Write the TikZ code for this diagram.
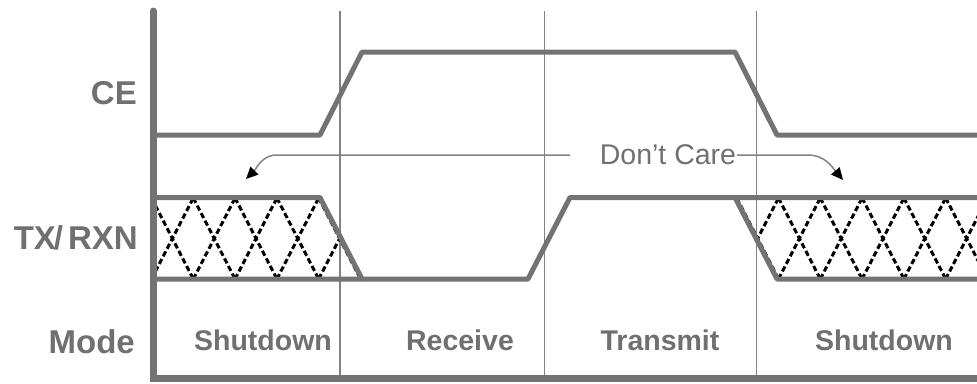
\documentclass[tikz,border=0pt]{standalone}
\usepackage{fontspec}
\setmainfont{Liberation Sans}
\usetikzlibrary{arrows.meta}
\definecolor{wavegray}{RGB}{115,115,115}
\definecolor{thingray}{RGB}{130,130,130}
\definecolor{textgray}{RGB}{112,112,112}
\begin{document}
\begin{tikzpicture}[x=1pt,y=-1pt,
  wave/.style={draw=wavegray, line width=5pt, line join=round},
  axisline/.style={draw=wavegray, line width=7pt, line cap=round},
  thinline/.style={draw=thingray, line width=1.6pt},
  hatchline/.style={draw=black, line width=3pt, dash pattern=on 5.5pt off 3pt},
  siglabel/.style={font=\fontsize{33}{36}\selectfont\bfseries, text=textgray, anchor=base east, inner sep=0pt},
  modelabel/.style={font=\fontsize{28.5}{32}\selectfont\bfseries, text=textgray, anchor=base, inner sep=0pt},
  dclabel/.style={font=\fontsize{28.5}{32}\selectfont, text=textgray, anchor=base, inner sep=0pt},
  dcline/.style={draw=thingray, line width=1.5pt, -{Triangle[length=12pt,width=11pt,color=black]}}
]
\useasboundingbox (0,0) rectangle (977,383);

% thin separators
\coordinate (s1t) at (340,11);  \coordinate (s1b) at (340,378);
\coordinate (s2t) at (544.5,11);\coordinate (s2b) at (544.5,378);
\coordinate (s3t) at (756.5,11);\coordinate (s3b) at (756.5,378);
\draw[thinline] (s1t) -- (s1b);
\draw[thinline] (s2t) -- (s2b);
\draw[thinline] (s3t) -- (s3b);

% hatch (don't care) regions
\begin{scope}
  \clip (155,199) -- (320,199) -- (362,279) -- (155,279) -- cycle;
  \foreach \k in {0,...,5} {
    \draw[hatchline] ({151.5+41.8*\k},198) -- ({151.5+41.8*(\k+1)},279);
    \draw[hatchline] ({151.5+41.8*\k},279) -- ({151.5+41.8*(\k+1)},198);
  }
\end{scope}
\begin{scope}
  \clip (735,199) -- (977,199) -- (977,279) -- (777,279) -- cycle;
  \foreach \k in {13,...,20} {
    \draw[hatchline] ({151.5+41.8*\k},198) -- ({151.5+41.8*(\k+1)},279);
    \draw[hatchline] ({151.5+41.8*\k},279) -- ({151.5+41.8*(\k+1)},198);
  }
\end{scope}

% CE waveform
\draw[wave] (153,135) -- (320,135) -- (362,52) -- (735,52) -- (777,135) -- (977,135);
% TX/RXN waveform
\draw[wave] (153,197.5) -- (320,197.5) -- (362,279) -- (153,279);
\draw[wave] (362,279) -- (528,279) -- (570,197.5) -- (977,197.5);
\draw[wave] (735,197.5) -- (777,279) -- (977,279);

% axes
\coordinate (axtop) at (153,11);
\coordinate (axcorner) at (153,378.5);
\coordinate (axright) at (980,378.5);
\draw[axisline] (axtop) -- (axcorner) -- (axright);

% signal labels
\node[siglabel] (ce) at (137,104) {CE};
\node[siglabel] (txrxn) at (138,249) {TX\kern-2pt/\kern5pt RXN};
\node[siglabel] (mode) at (135,353) {Mode};

% mode labels
\node[modelabel] (m1) at (263,350) {Shutdown};
\node[modelabel] (m2) at (460,350) {Receive};
\node[modelabel] (m3) at (660,350) {Transmit};
\node[modelabel] (m4) at (884,350) {Shutdown};

% don't care
\node[dclabel] (dc) at (668,164.5) {Don’t Care};
\coordinate (dcl) at (570,155);
\coordinate (dcltip) at (246,179);
\coordinate (dcr) at (737,155);
\coordinate (dcrtip) at (843,180);
\draw[dcline] (dcl) -- (277,155) to[out=180,in=45] (dcltip);
\draw[dcline] (dcr) -- (808,155) to[out=0,in=130] (dcrtip);
\end{tikzpicture}
\end{document}
